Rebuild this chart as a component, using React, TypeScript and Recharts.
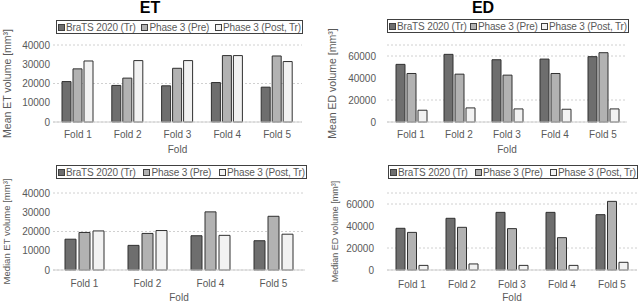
import React from 'react';
import { Bar, BarChart, CartesianGrid, XAxis, YAxis } from 'recharts';

const folds = ['Fold 1', 'Fold 2', 'Fold 3', 'Fold 4', 'Fold 5'];
const etMedianFolds = ['Fold 1', 'Fold 2', 'Fold 4', 'Fold 5'];

const etMeanBrats = [21000, 19000, 18800, 20500, 18100];
const etMeanPre = [27600, 22800, 27900, 34500, 34300];
const etMeanPost = [31700, 31900, 31900, 34500, 31400];

const edMeanBrats = [52400, 61500, 56600, 57200, 59400];
const edMeanPre = [44100, 43500, 42600, 44100, 63000];
const edMeanPost = [10700, 12800, 11900, 11600, 11900];

const etMedianBrats = [16000, 12800, 17800, 15200];
const etMedianPre = [19500, 19000, 30200, 27900];
const etMedianPost = [20300, 20500, 18000, 18600];

const edMedianBrats = [37900, 47000, 52400, 52400, 50300];
const edMedianPre = [34200, 38800, 37600, 29400, 62400];
const edMedianPost = [4200, 5500, 4200, 4200, 7000];

const etTicks = [0, 10000, 20000, 30000, 40000];
const edTicks = [0, 20000, 40000, 60000];

const seriesNames = ['BraTS 2020 (Tr)', 'Phase 3 (Pre)', 'Phase 3 (Post, Tr)'];
const seriesColors = ['#6e6e6e', '#b2b2b2', '#f2f2f2'];

const FONT = '"Liberation Sans", Arial, sans-serif';
const GREY = '#595959';

const build = (cats: string[], a: number[], b: number[], c: number[]) =>
  cats.map((fold, i) => ({ fold, brats: a[i], pre: b[i], post: c[i] }));

// rotated axis title; labelX is in chart svg coords
function YLabel({ viewBox, text, labelX, size }: any) {
  const cy = viewBox.y + viewBox.height / 2;
  return (
    <text
      x={labelX}
      y={cy}
      transform={`rotate(-90, ${labelX}, ${cy})`}
      textAnchor="middle"
      dominantBaseline="central"
      fontSize={size}
      fill={GREY}
      fontFamily={FONT}
    >
      {text}
    </text>
  );
}

function Legend({ left, top, width }: { left: number; top: number; width: number }) {
  return (
    <div
      style={{
        position: 'absolute',
        left,
        top,
        width,
        height: 14,
        border: '1px solid #404040',
        display: 'flex',
        alignItems: 'center',
        justifyContent: 'space-between',
        padding: '0 1px',
        boxSizing: 'border-box',
        fontSize: 10,
        letterSpacing: -0.15,
        color: GREY,
        whiteSpace: 'nowrap',
      }}
    >
      {seriesNames.map((name, i) => (
        <span key={name} style={{ display: 'flex', alignItems: 'center' }}>
          <span
            style={{
              display: 'inline-block',
              width: 5,
              height: 5,
              background: seriesColors[i],
              border: '1px solid #404040',
              marginRight: 1,
            }}
          />
          {name}
        </span>
      ))}
    </div>
  );
}

interface PanelProps {
  left: number;
  top: number;
  height: number;
  data: any[];
  domain: [number, number];
  ticks: number[];
  yLabel: string;
  yLabelX: number;
  yLabelSize: number;
  yWidth: number;
  marginTop: number;
  marginRight: number;
  xHeight: number;
  barSize: number;
  barGap: number;
  yTickMargin: number;
  xTickMargin: number;
  foldOffset: number;
}

function Panel(p: PanelProps) {
  return (
    <div style={{ position: 'absolute', left: p.left, top: p.top }}>
      <BarChart
        width={320}
        height={p.height}
        data={p.data}
        margin={{ top: p.marginTop, right: p.marginRight, left: 0, bottom: 0 }}
        barSize={p.barSize}
        barGap={p.barGap}
      >
        <CartesianGrid vertical={false} stroke="#d0d0d0" strokeDasharray="2 2" />
        <XAxis
          dataKey="fold"
          height={p.xHeight}
          tickLine={false}
          tickSize={0}
          tickMargin={p.xTickMargin}
          stroke="#d0d0d0"
          tick={{ fill: GREY, fontSize: 10, fontFamily: FONT }}
          label={{ value: 'Fold', position: 'insideBottom', offset: p.foldOffset, fill: GREY, fontSize: 10, fontFamily: FONT }}
        />
        <YAxis
          width={p.yWidth}
          domain={p.domain}
          ticks={p.ticks}
          axisLine={false}
          tickLine={false}
          tickSize={0}
          tickMargin={p.yTickMargin}
          tick={{ fill: GREY, fontSize: 10, fontFamily: FONT }}
          label={<YLabel text={p.yLabel} labelX={p.yLabelX} size={p.yLabelSize} />}
        />
        <Bar dataKey="brats" fill={seriesColors[0]} stroke="#303030" isAnimationActive={false} />
        <Bar dataKey="pre" fill={seriesColors[1]} stroke="#303030" isAnimationActive={false} />
        <Bar dataKey="post" fill={seriesColors[2]} stroke="#303030" isAnimationActive={false} />
      </BarChart>
    </div>
  );
}

export default function App() {
  return (
    <div
      style={{
        position: 'absolute',
        left: 0,
        top: 0,
        width: 640,
        height: 303,
        background: '#fff',
        fontFamily: FONT,
        overflow: 'hidden',
      }}
    >
      <div style={{ position: 'absolute', left: 130, top: -1, width: 40, textAlign: 'center', fontWeight: 'bold', fontSize: 16 }}>
        ET
      </div>
      <div style={{ position: 'absolute', left: 463, top: -1, width: 40, textAlign: 'center', fontWeight: 'bold', fontSize: 16 }}>
        ED
      </div>

      <Panel
        left={0}
        top={0}
        height={158}
        data={build(folds, etMeanBrats, etMeanPre, etMeanPost)}
        domain={[0, 40000]}
        ticks={etTicks}
        yLabel="Mean ET volume [mm³]"
        yLabelX={7}
        yLabelSize={10.5}
        yWidth={53}
        marginTop={45}
        marginRight={18}
        xHeight={36}
        barSize={9}
        barGap={2}
        yTickMargin={3}
        xTickMargin={9}
        foldOffset={5}
      />
      <Panel
        left={320}
        top={0}
        height={158}
        data={build(folds, edMeanBrats, edMeanPre, edMeanPost)}
        domain={[0, 70000]}
        ticks={edTicks}
        yLabel="Mean ED volume [mm³]"
        yLabelX={12}
        yLabelSize={10.5}
        yWidth={67}
        marginTop={45}
        marginRight={13}
        xHeight={36}
        barSize={9}
        barGap={2}
        yTickMargin={11}
        xTickMargin={9}
        foldOffset={5}
      />
      <Panel
        left={0}
        top={150}
        height={153}
        data={build(etMedianFolds, etMedianBrats, etMedianPre, etMedianPost)}
        domain={[0, 40000]}
        ticks={etTicks}
        yLabel="Median ET volume [mm³]"
        yLabelX={6}
        yLabelSize={9.5}
        yWidth={53}
        marginTop={43}
        marginRight={15}
        xHeight={33}
        barSize={11}
        barGap={3}
        yTickMargin={3}
        xTickMargin={10}
        foldOffset={2}
      />
      <Panel
        left={320}
        top={150}
        height={153}
        data={build(folds, edMedianBrats, edMedianPre, edMedianPost)}
        domain={[0, 70000]}
        ticks={edTicks}
        yLabel="Median ED volume [mm³]"
        yLabelX={15}
        yLabelSize={9}
        yWidth={67}
        marginTop={43}
        marginRight={3}
        xHeight={33}
        barSize={9}
        barGap={2.5}
        yTickMargin={13}
        xTickMargin={11}
        foldOffset={2}
      />

      <Legend left={56} top={20} width={247} />
      <Legend left={387} top={19} width={242} />
      <Legend left={56} top={165} width={251} />
      <Legend left={388} top={165} width={250} />
    </div>
  );
}
